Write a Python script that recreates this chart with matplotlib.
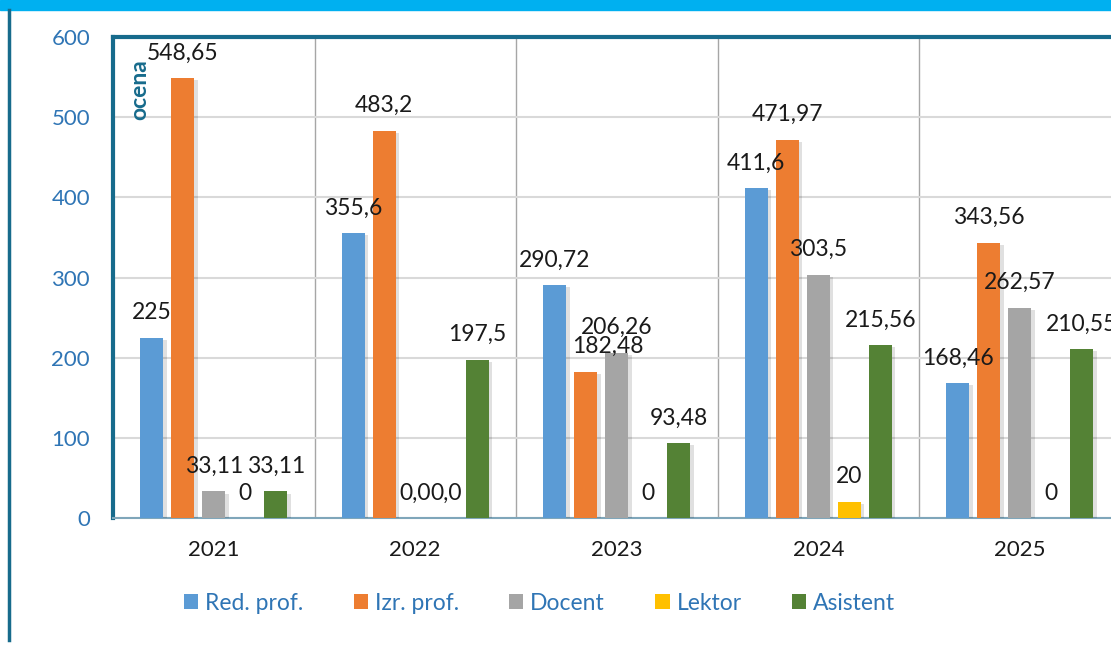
import numpy as np
import matplotlib
matplotlib.use('Agg')
import matplotlib.pyplot as plt
from matplotlib import patheffects as pe
from matplotlib.lines import Line2D
from matplotlib.patches import Rectangle

plt.rcParams['font.family'] = ['Lato', 'DejaVu Sans']

# data
years = ['2021', '2022', '2023', '2024', '2025']
series = ['Red. prof.', 'Izr. prof.', 'Docent', 'Lektor', 'Asistent']
red_prof = [225, 355.6, 290.72, 411.6, 168.46]
izr_prof = [548.65, 483.2, 182.48, 471.97, 343.56]
docent = [33.11, 0, 206.26, 303.5, 262.57]
lektor = [0, 0, 0, 20, 0]
asistent = [33.11, 197.5, 93.48, 215.56, 210.55]
# labels that Excel printed differently from plain value formatting
label_override = {(2, 1): '0,0', (3, 1): '0,0'}

colors = ['#5B9BD5', '#ED7D31', '#A5A5A5', '#FFC000', '#548235']
teal = '#176B8C'
tick_blue = '#2F75B5'
FS = 16.5

fig = plt.figure(figsize=(11.11, 6.62), dpi=100)

# cyan band on top, dark line on the left
fig.patches.append(Rectangle((0, 1 - 10 / 662), 1, 10 / 662, transform=fig.transFigure,
                             color='#00B0F0', zorder=0))
fig.lines.append(Line2D([9 / 1111, 9 / 1111], [1 - 10 / 662, 1 - 640 / 662],
                        transform=fig.transFigure, color=teal, lw=2.5))

ax = fig.add_axes([113 / 1111, 1 - 518 / 662, (1120.5 - 113) / 1111, (518 - 37) / 662])

x = np.arange(len(years))
width = 0.114
step = 0.154
data = [red_prof, izr_prof, docent, lektor, asistent]

shadow = [pe.SimplePatchShadow(offset=(2.5, -1.5), shadow_rgbFace='#000000', alpha=0.12), pe.Normal()]

for i, (name, vals) in enumerate(zip(series, data)):
    pos = x + (i - 2) * step
    bars = ax.bar(pos, vals, width, color=colors[i], label=name, zorder=3)
    for b in bars:
        b.set_path_effects(shadow)
    for j, (px, v) in enumerate(zip(pos, vals)):
        txt = label_override.get((i, j), ('%g' % v).replace('.', ','))
        dx = 16 if (i == 1 and j == 2) else 0
        ax.annotate(txt, (px, v), xytext=(dx, 18), textcoords='offset points',
                    ha='center', va='center', fontsize=FS, color='#1a1a1a', zorder=5)

ax.set_xlim(-0.5, len(years) - 0.5)
ax.set_ylim(0, 600)
ax.set_yticks(range(0, 601, 100))
ax.set_xticks(x)
ax.set_xticklabels(years)
ax.tick_params(axis='y', length=0, pad=16.5, labelsize=16, labelcolor=tick_blue)
ax.tick_params(axis='x', length=0, pad=16, labelsize=16, labelcolor='#1a1a1a')

ax.yaxis.grid(True, color='#D9D9D9', lw=1.5, zorder=0)
for k in range(1, len(years)):
    ax.axvline(k - 0.5, color='#A6A6A6', lw=1, zorder=1)

ax.spines['top'].set_color(teal)
ax.spines['top'].set_linewidth(3)
ax.spines['left'].set_color(teal)
ax.spines['left'].set_linewidth(3)
ax.spines['bottom'].set_color('#7FA6BA')
ax.spines['bottom'].set_linewidth(1.5)
ax.spines['right'].set_visible(False)

fig.text(139.5 / 1111, 1 - 89.5 / 662, 'ocena', rotation=90, ha='center', va='center',
         fontsize=FS, fontweight='bold', color=teal)

leg = fig.legend(loc='center', bbox_to_anchor=(539.5 / 1111, 1 - 603 / 662), ncol=5,
                 frameon=False, fontsize=FS, handlelength=0.62, handleheight=0.62,
                 handletextpad=0.3, columnspacing=2.2)
for t in leg.get_texts():
    t.set_color(tick_blue)
for h in leg.legend_handles:
    h.set_path_effects([])

fig.savefig('out.png', dpi=100)
